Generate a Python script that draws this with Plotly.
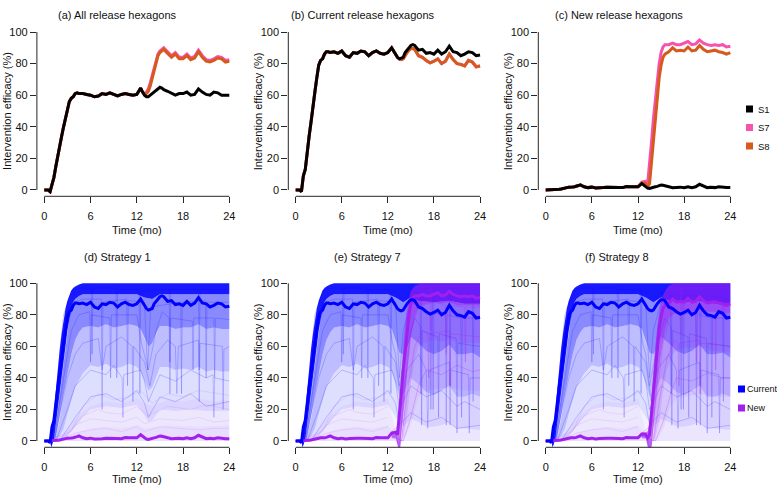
import plotly.graph_objects as go

W, H = 777, 488

# ---------------- data ----------------
T = [0, 0.5, 0.75, 1, 1.25, 1.5, 1.75, 2, 2.25, 2.5, 2.75, 3, 3.25, 3.5, 3.75, 4, 4.25, 4.5,
     5, 5.5, 6, 6.5, 7, 7.5, 8, 8.5, 9, 9.5, 10, 10.5, 11, 11.5, 12,
     12.5, 12.75, 13, 13.25, 13.5, 13.75, 14, 14.25, 14.5, 14.75, 15, 15.25, 15.5,
     16, 16.5, 17, 17.5, 18, 18.5, 19, 19.5, 20, 20.5, 21, 21.5, 22, 22.5, 23, 23.5, 24]

# (a) all release hexagons
a_S1 = [0, 0, -1, 4, 8, 15, 22, 28, 34, 40, 46, 52, 56, 58, 59, 61, 61.5, 61,
        61, 60.5, 60, 59, 59.5, 61, 60.5, 61.5, 60.5, 59.5, 60.5, 61, 60.5, 60, 60.5,
        64.5, 62, 60, 59, 59, 60, 61, 62.5, 63.5, 64.5, 65, 64.5, 63.5,
        62.5, 61.5, 60, 61, 61, 62, 60, 60.5, 64, 62, 60.5, 60, 62, 61.5, 60, 60, 60]
a_S7 = a_S1[:35] + [61, 62, 64, 68, 73, 78, 83, 86, 88, 89, 90,
                    87.5, 85, 87, 84, 84, 86, 83.5, 84.5, 88.5, 85, 82.5, 82, 83, 84.5, 84, 82, 82.5]
a_S8 = a_S1[:35] + [60.5, 61, 62.5, 66, 71, 77, 82, 85, 87, 88, 89,
                    86.5, 84, 86, 83, 83, 85, 82.5, 83.5, 87.5, 84, 81.5, 81, 82, 83.5, 83, 81, 81.5]

# (b) current release hexagons
b_S1 = [0, 0, -1, 9, 13, 25, 34, 43, 51, 62, 71, 79, 82, 83, 86, 87.5, 87.5, 87,
        87.5, 86.5, 88, 85, 84, 87, 86.5, 88, 87.5, 85, 87, 88, 86.5, 86, 87,
        90, 88, 86, 84, 83, 83.5, 84, 87, 88.5, 90.5, 91.5, 92, 91.5,
        88.5, 89, 86.5, 87, 86, 88.5, 86, 87.5, 91, 87.5, 87, 85, 86, 87.5, 87, 85, 85.5]
b_S7 = b_S1[:35] + [86, 84, 83, 82.5, 83, 85.5, 87, 88.5, 89.5, 89.5, 89,
                    85, 84, 82, 80.5, 81.5, 83, 80, 81.5, 86, 82.5, 80, 79.5, 78.5, 82, 81, 78, 78.5]
b_S8 = list(b_S7)

# (c) new release hexagons
c_S1 = [0, 0, 0, 0, 0, 0.2, 0.4, 0.6, 1, 1.3, 1.5, 1.7, 2, 1.9, 2.1, 2.3, 2.8, 3.2,
        2, 1.5, 1.8, 1.3, 1.6, 1.5, 1.7, 1.8, 1.5, 1.6, 1.5, 2.2, 2, 1.8, 2,
        4, 3, 2, 1.2, 1, 1.2, 1.5, 2, 2.3, 2.8, 3.2, 3, 2.6,
        1.8, 1.4, 1.6, 1.8, 1.4, 2, 1.5, 2, 3.6, 2.5, 1.5, 1.8, 1.5, 2, 1.6, 1.5, 1.5]
c_S7 = c_S1[:33] + [5, 5.5, 5.5, 4, 15, 30, 45, 58, 70, 80, 87, 90.5, 92,
                    92, 93, 92, 92, 93, 94, 92, 92.5, 95, 93, 92, 91.5, 92, 91.5, 92, 90.5, 91]
c_S8 = c_S1[:33] + [4.5, 4.5, 4, 2, 4, 18, 33, 47, 60, 71, 79, 84, 86,
                    87.5, 90, 88, 88.5, 88, 90.5, 88, 88.5, 91.5, 89, 87.5, 88, 88.5, 87.5, 87, 86, 87]

# density envelopes of individual hexagons, current release (t, value) knots
CUR_TOP = [(0, 0), (0.75, 0), (1, 8), (1.25, 18), (1.5, 32), (1.75, 46), (2, 58), (2.25, 68), (2.5, 77),
           (2.75, 84), (3, 89), (3.25, 93), (3.5, 95.5), (3.75, 97), (4, 98), (4.5, 99.3), (5, 100), (24, 100)]
CUR_Q1_HEAD = [(0, 0), (0.75, 0), (0.9, -4), (1.1, -1), (1.25, 1), (1.5, 10), (1.75, 20), (2, 30), (2.25, 40),
               (2.5, 50), (2.75, 60), (3, 70), (3.25, 78), (3.5, 84), (3.75, 88), (4, 90), (4.5, 92), (5, 93), (12, 93)]
CUR_Q1_S1 = [(13, 91), (14, 90), (15, 93), (24, 93)]
CUR_Q1_S7 = [(13, 91), (14, 88), (15, 91), (16, 89), (18, 88), (20, 89), (22, 87), (24, 87)]
CUR_Q2_HEAD = [(0, 0), (1.1, 0), (1.5, 3), (2, 14), (2.5, 28), (3, 42), (3.5, 55), (4, 64), (4.5, 69), (5, 72),
               (6, 73), (7, 72), (8, 74), (9, 72), (10, 73), (11, 74), (12, 73), (12.5, 71)]
CUR_Q2_S1 = [(13, 65), (13.5, 60), (14, 62), (14.5, 68), (15, 73), (16, 73), (17, 71), (18, 72), (19, 72),
             (20, 74), (21, 71), (22, 72), (23, 71), (24, 71)]
CUR_Q2_S7 = [(13, 63), (13.5, 56), (14, 55), (14.5, 60), (15, 66), (16, 62), (17, 57), (18, 55), (19, 57),
             (20, 61), (21, 55), (22, 55), (23, 56), (24, 53)]
CUR_Q3_HEAD = [(0, 0), (1.4, 0), (2, 3), (2.5, 8), (3, 16), (3.5, 25), (4, 34), (5, 43), (6, 48), (7, 47),
               (8, 49), (9, 46), (10, 47), (11, 49), (12, 47), (12.5, 44)]
CUR_Q3_S1 = [(13, 38), (13.5, 32), (14, 34), (14.5, 41), (15, 47), (16, 47), (17, 45), (18, 46), (19, 45),
             (20, 47), (21, 44), (22, 45), (23, 44), (24, 44)]
CUR_Q3_S7 = [(13, 36), (13.5, 28), (14, 29), (14.5, 35), (15, 40), (16, 36), (17, 31), (18, 29), (19, 32),
             (20, 35), (21, 28), (22, 28), (23, 30), (24, 28)]
CUR_Q4_HEAD = [(0, 0), (2, 0), (3, 3), (4, 9), (5, 15), (6, 20), (8, 22), (10, 21), (12, 23)]
CUR_Q4_S1 = [(13, 16), (13.5, 12), (14, 13), (15, 20), (17, 19), (19, 20), (21, 19), (24, 19)]
CUR_Q4_S7 = [(13, 15), (14, 9), (15, 14), (16, 12), (17, 9), (18, 9), (19, 10), (20, 12), (21, 8), (22, 8), (24, 7)]
BASE = [(0, 0), (24, 0)]

# individual current-release hexagons (knots)
CUR_LINES_HEAD = [
    [(0, 0), (0.8, 0), (1.5, 30), (2.5, 80), (3.5, 95), (4.5, 97), (6.1, 97), (6.2, 55), (6.3, 97), (9.3, 97),
     (9.4, 40), (9.5, 96), (12.3, 96), (12.4, 30), (12.5, 95), (13, 95)],
    [(0, 0), (1, 0), (2, 40), (3, 75), (4, 88), (5, 90), (7.4, 90), (7.5, 20), (7.6, 88), (10.7, 90), (10.8, 35),
     (10.9, 89), (13, 88)],
    [(0, 0), (1.2, 0), (2.5, 40), (3.5, 70), (4.5, 80), (5.9, 82), (6, 50), (6.1, 80), (8.5, 78), (8.6, 40),
     (8.7, 80), (12, 80), (12.6, 62), (13, 55)],
    [(0, 0), (1.3, 0), (3, 40), (4, 55), (5, 62), (7, 65), (7.5, 45), (8, 60), (10, 66), (11.4, 60), (11.5, 25),
     (11.6, 60), (13, 50)],
    [(0, 0), (1.5, 0), (3, 20), (4, 35), (6, 45), (8, 42), (9, 48), (10.1, 40), (10.2, 15), (10.3, 42),
     (12.5, 45), (13, 38)],
    [(0, 0), (2, 0), (4, 15), (6, 28), (8, 30), (10, 25), (12, 32), (13, 24)],
]
CUR_LINES_S1 = [
    [(16.2, 96), (16.3, 50), (16.4, 96), (20, 96), (20.1, 45), (20.2, 96), (24, 96)],
    [(13.4, 45), (13.8, 85), (17.7, 88), (17.8, 30), (17.9, 88), (20.9, 89), (21, 40), (21.1, 88), (24, 88)],
    [(13.5, 45), (14.5, 70), (15.3, 82), (16.2, 78), (16.3, 30), (16.4, 78), (19.2, 76), (19.3, 45), (19.4, 78),
     (22, 78), (22.1, 40), (22.2, 78), (24, 77)],
    [(13.7, 35), (14.5, 55), (16, 64), (17, 60), (17.2, 30), (17.4, 60), (20, 64), (20.1, 25), (20.2, 62),
     (23.1, 60), (23.2, 20), (23.3, 58), (24, 60)],
    [(13.5, 25), (15, 42), (17, 38), (19, 45), (21, 40), (21.9, 42), (22, 15), (22.1, 40), (24, 38)],
    [(13.5, 15), (15, 28), (17, 25), (19, 30), (21, 22), (24, 25)],
]
CUR_LINES_S7 = [
    [(14, 88), (15, 95), (16.2, 94), (16.3, 30), (16.4, 93), (17.8, 92), (17.9, 20), (18, 92), (20, 92),
     (20.1, 35), (20.2, 92), (23, 91), (23.1, 25), (23.2, 90), (24, 90)],
    [(13.5, 40), (14, 70), (15, 88), (16.5, 85), (17.5, 80), (17.6, 20), (17.7, 80), (19.5, 82), (19.6, 10),
     (19.7, 80), (21.5, 78), (21.6, 15), (21.7, 78), (24, 78)],
    [(13.5, 35), (14.5, 60), (15.5, 78), (16.3, 72), (16.4, 10), (16.5, 70), (18.5, 66), (18.6, 15), (18.7, 68),
     (20.9, 65), (21, 5), (21.1, 62), (24, 60)],
    [(13.7, 25), (14.5, 45), (16, 55), (17, 45), (17.2, 8), (17.4, 45), (20, 50), (20.1, 10), (20.2, 45),
     (22.5, 42), (22.6, 5), (22.7, 40), (24, 40)],
    [(13.5, 20), (15, 35), (17, 28), (19, 32), (21, 22), (22, 25), (24, 20)],
    [(13.5, 10), (15, 18), (17, 12), (19, 15), (21, 8), (24, 10)],
]

# new-release hexagons before the switch (all strategies)
NEW_LOW_HI = [(0, 0), (1.5, 0), (2, 2), (3, 8), (4, 14), (5, 18), (6, 22), (8, 25), (10, 24), (12, 27), (13, 24),
              (14, 22), (16, 26), (18, 25), (20, 27), (22, 25), (24, 26)]
NEW_LOW_MID = [(0, 0), (2, 0), (3, 3), (4, 5), (6, 8), (8, 9), (10, 8), (12, 10), (13, 8), (16, 10), (20, 9),
               (24, 10)]
NEW_LINES_LOW = [
    [(0, 0), (2, 1), (4, 5), (6, 7), (8, 8), (10, 6), (12, 9), (13, 6), (15, 9), (18, 8), (20, 7), (22, 8), (24, 8)],
    [(0, 0), (2.5, 2), (4, 10), (6, 14), (8, 13), (10, 12), (12, 15), (13, 11), (15, 14), (18, 13), (20, 15),
     (22, 12), (24, 13)],
    [(0, 0), (3, 4), (5, 16), (7, 20), (8, 18), (10, 17), (12, 22), (13.5, 16), (16, 22), (19, 20), (21, 23),
     (24, 20)],
    [(0, 0), (3.5, 6), (5, 22), (7, 30), (9, 26), (11, 28), (12.5, 32), (14, 24), (16, 30), (18, 28), (20, 32),
     (24, 29)],
]
# new-release hexagons after the switch (S7, S8)
NEW_TOP_S7 = [(12.5, 6), (13, 7), (13.25, 7), (13.5, 25), (13.75, 42), (14, 58), (14.25, 72), (14.5, 83),
              (14.75, 90), (15, 95), (15.5, 98.5), (16, 99.5), (16.5, 100), (24, 100)]
NEW_Q1_S7 = [(12.5, 2), (13, 2), (13.25, -2), (13.5, -8), (13.75, -1), (14, 14), (14.25, 28), (14.5, 42),
             (14.75, 55), (15, 66), (15.5, 79), (16, 85), (17, 87), (18, 88), (19, 87), (20, 88), (21, 86),
             (22, 86), (23, 86), (24, 86)]
NEW_Q2_S7 = [(13.5, 0), (14, 2), (14.5, 15), (15, 35), (15.5, 52), (16, 60), (17, 63), (18, 64), (19, 63),
             (20, 65), (21, 62), (22, 62), (23, 62), (24, 62)]
NEW_Q3_S7 = [(14, 0), (15, 10), (15.5, 20), (16, 28), (17, 32), (18, 33), (20, 34), (22, 32), (24, 32)]
NEW_TOP_S8 = [(12.5, 5), (13, 6), (13.25, 6), (13.5, 12), (13.75, 30), (14, 46), (14.25, 60), (14.5, 72),
              (14.75, 82), (15, 89), (15.5, 95), (16, 98.5), (16.5, 99.5), (17, 100), (24, 100)]
NEW_Q1_S8 = [(12.5, 2), (13, 2), (13.25, -3), (13.5, -9), (13.75, -4), (14, 5), (14.25, 18), (14.5, 32),
             (14.75, 45), (15, 56), (15.5, 70), (16, 78), (17, 82), (18, 83), (19, 82), (20, 84), (21, 82),
             (22, 82), (23, 81), (24, 81)]
NEW_Q2_S8 = [(13.75, 0), (14.25, 2), (14.75, 12), (15.25, 30), (15.75, 45), (16.5, 55), (17, 58), (18, 59),
             (20, 60), (22, 57), (24, 56)]
NEW_Q3_S8 = [(14.5, 0), (15.5, 10), (16, 20), (17, 27), (18, 28), (20, 30), (22, 28), (24, 28)]
NEW_LINES_S7 = [
    [(12.5, 6), (13, 8), (13.5, 10), (14, 60), (14.5, 85), (15, 95), (16, 98), (17.5, 98), (17.6, 70), (17.7, 98),
     (24, 98)],
    [(12.5, 4), (13, 5), (13.5, -6), (14, 25), (15, 70), (16, 85), (18, 88), (19.5, 86), (19.6, 55), (19.7, 86),
     (22, 85), (22.1, 50), (22.2, 85), (24, 85)],
    [(12.5, 3), (13, 3), (13.75, 0), (14.5, 30), (15.5, 60), (16.5, 70), (17.2, 68), (17.3, 40), (17.4, 68),
     (20, 70), (20.1, 35), (20.2, 68), (24, 66)],
    [(12.5, 2), (13, 2), (14, 0), (15, 15), (16, 35), (17, 45), (19, 42), (21, 48), (23, 44), (24, 45)],
]
NEW_LINES_S8 = [
    [(12.5, 5), (13, 7), (13.75, 10), (14.25, 55), (14.75, 80), (15.25, 92), (16.25, 97), (17.5, 97), (17.6, 68),
     (17.7, 97), (24, 97)],
    [(12.5, 4), (13, 5), (13.6, -7), (14.25, 20), (15.25, 62), (16.25, 80), (18, 83), (19.5, 81), (19.6, 50),
     (19.7, 81), (22, 80), (22.1, 45), (22.2, 80), (24, 80)],
    [(12.5, 3), (13, 3), (14, 0), (14.75, 25), (15.75, 52), (16.75, 64), (17.2, 62), (17.3, 35), (17.4, 62),
     (20, 64), (20.1, 30), (20.2, 62), (24, 60)],
    [(12.5, 2), (13, 2), (14.25, 0), (15.25, 12), (16.25, 30), (17, 40), (19, 38), (21, 43), (23, 40), (24, 40)],
]

TICKS_X = [0, 6, 12, 18, 24]
TICKS_Y = [0, 20, 40, 60, 80, 100]
TITLES = ["(a) All release hexagons", "(b) Current release hexagons", "(c) New release hexagons",
          "(d) Strategy 1", "(e) Strategy 7", "(f) Strategy 8"]
LEG_TOP = ["S1", "S7", "S8"]
LEG_BOTTOM = ["Current", "New"]

# ---------------- style ----------------
BLUE = "#0000FF"
PURPLE = "#A020F0"
BLACK = "#000000"
PINK = "#F652AE"
ORANGE = "#D65A1C"
AXC = "#262626"
FONT = "Liberation Sans, Arial, sans-serif"

COLS = [(36.9, 236.7), (288.3, 487.4), (538.3, 737.7)]
ROWS = [(25.7, 196.3), (277.0, 447.3)]
TITLE_X = [117, 363, 619, 117, 367, 617]

fig = go.Figure()
layout = dict(width=W, height=H, margin=dict(l=0, r=0, t=0, b=0), paper_bgcolor="white",
              plot_bgcolor="white", showlegend=False, font=dict(family=FONT, size=11, color="#111"))
shapes, annots = [], []


def ax(i):
    return ("x" if i == 1 else f"x{i}"), ("y" if i == 1 else f"y{i}")


for i in range(1, 7):
    c = (i - 1) % 3
    r = (i - 1) // 3
    xn, yn = ax(i)
    xk = "xaxis" if i == 1 else f"xaxis{i}"
    yk = "yaxis" if i == 1 else f"yaxis{i}"
    layout[xk] = dict(domain=[COLS[c][0] / W, COLS[c][1] / W], range=[-0.96, 24.96], anchor=yn,
                      tickvals=TICKS_X, ticks="outside", ticklen=6, tickwidth=1, tickcolor=AXC,
                      showgrid=False, zeroline=False, showline=False, tickfont=dict(size=11, color="#111"),
                      ticklabelstandoff=3)
    layout[yk] = dict(domain=[1 - ROWS[r][1] / H, 1 - ROWS[r][0] / H], range=[-4, 104], anchor=xn,
                      tickvals=TICKS_Y, ticks="outside", ticklen=6, tickwidth=1, tickcolor=AXC,
                      showgrid=False, zeroline=False, showline=False, tickfont=dict(size=11, color="#111"))
    shapes.append(dict(type="line", xref=f"{xn} domain", yref=yn, x0=0, x1=0, y0=0, y1=100,
                       line=dict(color=AXC, width=1)))
    shapes.append(dict(type="line", xref=xn, yref=f"{yn} domain", x0=0, x1=24, y0=0, y1=0,
                       line=dict(color=AXC, width=1)))
    ty = 15 if r == 0 else 257
    annots.append(dict(text=TITLES[i - 1], x=TITLE_X[i - 1] / W, y=1 - ty / H, xref="paper", yref="paper",
                       xanchor="center", yanchor="middle", showarrow=False, font=dict(size=11)))
    xc = (COLS[c][0] + COLS[c][1]) / 2
    xy = 230 if r == 0 else 479
    annots.append(dict(text="Time (mo)", x=xc / W, y=1 - xy / H, xref="paper", yref="paper",
                       xanchor="center", yanchor="middle", showarrow=False, font=dict(size=11)))
    yc = (ROWS[r][0] + ROWS[r][1]) / 2
    annots.append(dict(text="Intervention efficacy (%)", x=(COLS[c][0] - 30) / W, y=1 - yc / H,
                       xref="paper", yref="paper", xanchor="center", yanchor="middle", textangle=-90,
                       showarrow=False, font=dict(size=11)))


def line(i, x, y, color, width):
    xn, yn = ax(i)
    fig.add_trace(go.Scatter(x=x, y=y, mode="lines", line=dict(color=color, width=width),
                             xaxis=xn, yaxis=yn, hoverinfo="skip"))


def knots(i, pts, color, width):
    line(i, [p[0] for p in pts], [p[1] for p in pts], color, width)


def band(i, upper, lower, color):
    xn, yn = ax(i)
    xs = [p[0] for p in upper] + [p[0] for p in reversed(lower)]
    ys = [p[1] for p in upper] + [p[1] for p in reversed(lower)]
    fig.add_trace(go.Scatter(x=xs, y=ys, mode="lines", fill="toself", fillcolor=color,
                             line=dict(width=0, color=color), xaxis=xn, yaxis=yn, hoverinfo="skip"))


def rgba(hexc, a):
    h = hexc.lstrip("#")
    return f"rgba({int(h[0:2], 16)},{int(h[2:4], 16)},{int(h[4:6], 16)},{a})"


# top row
for i, series in ((1, (a_S7, a_S8, a_S1)), (2, (b_S7, b_S8, b_S1)), (3, (c_S7, c_S8, c_S1))):
    line(i, T, series[0], PINK, 3)
    line(i, T, series[1], ORANGE, 3)
    line(i, T, series[2], BLACK, 3)

# bottom row
setups = {
    4: dict(q1=CUR_Q1_S1, q2=CUR_Q2_S1, q3=CUR_Q3_S1, q4=CUR_Q4_S1, lines=CUR_LINES_S1, new=None,
            cur=b_S1, newbold=c_S1),
    5: dict(q1=CUR_Q1_S7, q2=CUR_Q2_S7, q3=CUR_Q3_S7, q4=CUR_Q4_S7, lines=CUR_LINES_S7,
            new=(NEW_TOP_S7, NEW_Q1_S7, NEW_Q2_S7, NEW_Q3_S7, NEW_LINES_S7), cur=b_S7, newbold=c_S7),
    6: dict(q1=CUR_Q1_S7, q2=CUR_Q2_S7, q3=CUR_Q3_S7, q4=CUR_Q4_S7, lines=CUR_LINES_S7,
            new=(NEW_TOP_S8, NEW_Q1_S8, NEW_Q2_S8, NEW_Q3_S8, NEW_LINES_S8), cur=b_S8, newbold=c_S8),
}
for i, s in setups.items():
    q1 = CUR_Q1_HEAD + s["q1"]
    q2 = CUR_Q2_HEAD + s["q2"]
    q3 = CUR_Q3_HEAD + s["q3"]
    q4 = CUR_Q4_HEAD + s["q4"]
    band(i, q4, BASE, rgba(BLUE, 0.05))
    band(i, q3, q4, rgba(BLUE, 0.13))
    band(i, q2, q3, rgba(BLUE, 0.26))
    band(i, q1, q2, rgba(BLUE, 0.46))
    band(i, CUR_TOP, q1, rgba(BLUE, 0.9))
    for h, t in zip(CUR_LINES_HEAD, s["lines"]):
        knots(i, h + t, rgba(BLUE, 0.28), 0.7)
    if s["new"] is None:
        band(i, NEW_LOW_HI, BASE, rgba(PURPLE, 0.05))
        band(i, NEW_LOW_MID, BASE, rgba(PURPLE, 0.05))
        for ln in NEW_LINES_LOW:
            knots(i, ln, rgba(PURPLE, 0.16), 0.7)
    else:
        top, nq1, nq2, nq3, nlines = s["new"]
        lowhi = [p for p in NEW_LOW_HI if p[0] <= 12.5]
        lowmid = [p for p in NEW_LOW_MID if p[0] <= 12.5]
        band(i, lowhi + [(13, 6)], [(0, 0), (13, 0)], rgba(PURPLE, 0.05))
        band(i, lowmid + [(13, 4)], [(0, 0), (13, 0)], rgba(PURPLE, 0.05))
        for ln in NEW_LINES_LOW:
            knots(i, [p for p in ln if p[0] <= 12.5], rgba(PURPLE, 0.16), 0.7)
        band(i, nq3, [(13.5, 0), (24, 0)], rgba(PURPLE, 0.06))
        band(i, nq2, nq3, rgba(PURPLE, 0.13))
        band(i, nq1, nq2, rgba(PURPLE, 0.26))
        band(i, top, nq1, rgba(PURPLE, 0.6))
        for ln in nlines:
            knots(i, ln, rgba(PURPLE, 0.35), 0.7)
    line(i, T, s["newbold"], PURPLE, 3)
    line(i, T, s["cur"], BLUE, 3)

# legends
for k, (lab, col) in enumerate(zip(LEG_TOP, (BLACK, PINK, ORANGE))):
    yc = [109, 127.5, 146][k]
    shapes.append(dict(type="rect", xref="paper", yref="paper", x0=746 / W, x1=753 / W,
                       y0=1 - (yc + 3.5) / H, y1=1 - (yc - 3.5) / H, fillcolor=col, line=dict(width=0)))
    annots.append(dict(text=lab, x=756 / W, y=1 - yc / H, xref="paper", yref="paper", xanchor="left",
                       yanchor="middle", showarrow=False, font=dict(size=9.5)))
for k, (lab, col) in enumerate(zip(LEG_BOTTOM, (BLUE, PURPLE))):
    yc = [389, 408][k]
    shapes.append(dict(type="rect", xref="paper", yref="paper", x0=738 / W, x1=745 / W,
                       y0=1 - (yc + 3.5) / H, y1=1 - (yc - 3.5) / H, fillcolor=col, line=dict(width=0)))
    annots.append(dict(text=lab, x=746 / W, y=1 - yc / H, xref="paper", yref="paper", xanchor="left",
                       yanchor="middle", showarrow=False, font=dict(size=9), borderpad=0))

layout["shapes"] = shapes
layout["annotations"] = annots
fig.update_layout(**layout)
fig.write_html("out.html", config={"displayModeBar": False},
               post_script="document.body.style.margin='0px';document.body.style.overflow='hidden';")
